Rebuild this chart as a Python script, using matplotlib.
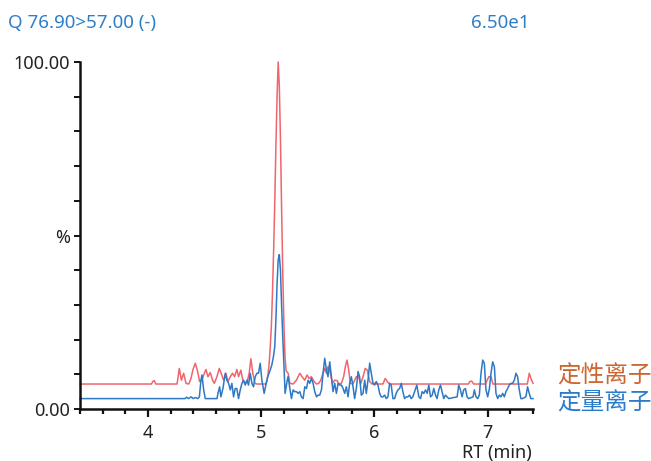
import matplotlib.pyplot as plt
from matplotlib.ticker import MultipleLocator, FixedLocator

plt.rcParams['font.family'] = ['Noto Sans', 'Noto Sans CJK SC', 'DejaVu Sans']

# 定性离子 (qualifier ion), RT (min) / relative intensity (%)
qual_rt = [3.40, 4.03, 4.045, 4.055, 4.07, 4.257, 4.277, 4.295, 4.315, 4.336,
           4.36, 4.38, 4.398, 4.418, 4.439, 4.456, 4.477, 4.492, 4.512, 4.53,
           4.55, 4.571, 4.586, 4.609, 4.63, 4.647, 4.668, 4.688, 4.706, 4.727,
           4.747, 4.765, 4.785, 4.80, 4.82, 4.838, 4.859, 4.879, 4.894, 4.909,
           4.926, 4.944, 4.96, 5.04, 5.05, 5.06, 5.07, 5.08, 5.09, 5.10,
           5.11, 5.12, 5.13, 5.14, 5.15, 5.16, 5.17, 5.18, 5.19, 5.20,
           5.21, 5.22, 5.238, 5.253, 5.282, 5.311, 5.341, 5.361, 5.385, 5.405,
           5.423, 5.443, 5.467, 5.488, 5.508, 5.526, 5.546, 5.561, 5.576, 5.59,
           5.611, 5.629, 5.649, 5.67, 5.687, 5.708, 5.728, 5.743, 5.758, 5.773,
           5.787, 5.81, 5.825, 5.84, 5.86, 5.878, 5.899, 5.919, 5.937, 5.958,
           5.978, 6.00, 6.02, 6.046, 6.075, 6.095, 6.113, 6.134, 6.83, 6.845,
           6.86, 6.875, 6.98, 6.995, 7.01, 7.03, 7.045, 7.35, 7.367, 7.385, 7.40]
qual_pct = [7.2, 7.2, 8.0, 8.2, 7.2, 7.2, 11.7, 8.3, 10.3, 7.4,
            7.2, 8.8, 11.4, 13.2, 10.8, 7.9, 8.3, 9.8, 11.4, 9.3,
            10.5, 8.3, 7.4, 9.3, 11.7, 10.3, 8.3, 10.3, 7.9, 9.3,
            10.3, 9.3, 11.4, 9.3, 11.2, 8.3, 7.2, 8.3, 10.3, 14.5,
            10.3, 7.4, 7.2, 7.2, 8.0, 10.0, 13.0, 18.0, 24.0, 34.0,
            46.0, 60.0, 76.0, 90.0, 100.0, 93.0, 78.0, 58.0, 40.0, 25.0,
            15.0, 11.0, 10.3, 7.4, 7.2, 8.3, 10.3, 9.3, 8.3, 9.8,
            8.8, 9.3, 7.9, 7.2, 7.4, 8.3, 10.3, 11.7, 10.3, 12.2,
            10.3, 7.4, 8.3, 8.2, 7.2, 7.4, 9.3, 12.2, 14.1, 11.2,
            7.4, 7.2, 8.3, 9.3, 9.3, 7.2, 9.3, 11.7, 11.2, 7.9,
            7.2, 7.4, 7.2, 7.2, 7.2, 8.8, 7.9, 7.2, 7.2, 8.0,
            8.0, 7.2, 7.2, 8.3, 9.3, 9.3, 7.2, 7.2, 10.3, 8.5, 7.4]

# 定量离子 (quantifier ion)
quant_rt = [3.40, 4.33, 4.34, 4.36, 4.38, 4.40, 4.42, 4.44, 4.454, 4.468,
            4.477, 4.492, 4.506, 4.61, 4.618, 4.633, 4.644, 4.662, 4.683, 4.697,
            4.712, 4.727, 4.741, 4.756, 4.77, 4.785, 4.80, 4.815, 4.83, 4.844,
            4.859, 4.874, 4.888, 4.903, 4.918, 4.932, 4.947, 4.962, 4.976, 4.991,
            5.006, 5.026, 5.044, 5.058, 5.079, 5.094, 5.108, 5.12, 5.13, 5.14,
            5.15, 5.16, 5.17, 5.18, 5.19, 5.20, 5.211, 5.23, 5.238, 5.253,
            5.267, 5.282, 5.296, 5.311, 5.326, 5.341, 5.355, 5.37, 5.385, 5.40,
            5.414, 5.429, 5.443, 5.458, 5.473, 5.488, 5.502, 5.517, 5.532, 5.546,
            5.561, 5.576, 5.59, 5.605, 5.62, 5.634, 5.649, 5.664, 5.679, 5.693,
            5.708, 5.723, 5.737, 5.752, 5.767, 5.781, 5.796, 5.811, 5.825, 5.84,
            5.855, 5.869, 5.884, 5.899, 5.914, 5.928, 5.943, 5.958, 5.972, 5.987,
            6.002, 6.016, 6.031, 6.046, 6.06, 6.075, 6.09, 6.104, 6.119, 6.134,
            6.148, 6.163, 6.178, 6.192, 6.207, 6.222, 6.237, 6.251, 6.266, 6.281,
            6.295, 6.31, 6.324, 6.339, 6.354, 6.374, 6.392, 6.407, 6.421, 6.436,
            6.451, 6.466, 6.48, 6.495, 6.51, 6.524, 6.539, 6.553, 6.568, 6.583,
            6.597, 6.612, 6.627, 6.642, 6.656, 6.73, 6.744, 6.759, 6.774, 6.788,
            6.803, 6.818, 6.832, 6.871, 6.882, 6.897, 6.912, 6.926, 6.941, 6.956,
            6.97, 6.985, 7.00, 7.015, 7.029, 7.044, 7.059, 7.073, 7.088, 7.103,
            7.117, 7.132, 7.147, 7.161, 7.176, 7.19, 7.205, 7.22, 7.235, 7.25,
            7.264, 7.279, 7.293, 7.308, 7.337, 7.352, 7.367, 7.381, 7.40]
quant_pct = [3.0, 3.0, 3.4, 3.0, 3.5, 3.0, 3.3, 3.0, 3.5, 8.3,
             9.8, 5.5, 3.0, 3.0, 4.5, 6.4, 3.5, 5.9, 10.3, 8.3,
             7.4, 5.5, 7.4, 3.5, 5.9, 5.9, 3.0, 5.5, 7.4, 8.3,
             6.9, 8.3, 6.9, 10.3, 7.4, 6.4, 9.3, 10.3, 10.3, 13.2,
             8.3, 4.5, 7.4, 9.3, 11.2, 12.7, 15.1, 18.0, 26.0, 36.0,
             43.0, 44.5, 40.0, 30.0, 21.0, 13.0, 4.5, 8.3, 9.3, 5.9,
             3.0, 5.5, 5.0, 5.0, 4.5, 5.0, 3.5, 3.0, 6.4, 5.9,
             8.3, 7.4, 8.8, 7.4, 5.0, 3.5, 4.0, 4.0, 5.5, 10.3,
             14.6, 11.2, 9.3, 13.6, 9.3, 5.0, 7.4, 4.5, 7.4, 6.9,
             6.9, 5.9, 4.5, 6.4, 3.5, 7.4, 9.3, 6.4, 3.0, 5.9,
             10.8, 9.3, 4.0, 4.5, 8.3, 4.5, 8.3, 13.2, 10.3, 7.4,
             6.9, 7.9, 6.9, 4.5, 3.5, 3.5, 4.0, 3.0, 3.5, 7.4,
             6.9, 3.0, 3.0, 4.5, 5.5, 5.9, 7.4, 5.0, 3.0, 3.5,
             3.5, 4.0, 3.0, 3.5, 5.0, 6.9, 3.5, 3.0, 5.0, 4.5,
             5.5, 4.5, 6.9, 3.5, 4.0, 5.9, 4.0, 3.0, 5.5, 6.9,
             5.0, 3.0, 4.0, 3.5, 3.0, 3.5, 6.9, 5.5, 3.5, 5.5,
             5.9, 3.5, 3.0, 3.5, 5.5, 3.5, 3.0, 4.0, 10.3, 14.1,
             13.2, 5.5, 3.5, 5.9, 10.3, 13.6, 12.2, 4.5, 3.0, 4.0,
             3.5, 4.5, 3.5, 5.0, 5.9, 6.9, 7.4, 7.4, 8.3, 10.3,
             9.3, 5.5, 3.0, 3.0, 3.5, 6.4, 4.5, 3.0, 3.0]

x_major = [4, 5, 6, 7]
y_ticks = [0, 50, 100]
y_ticklabels = ['0.00', '%', '100.00']

fig = plt.figure(figsize=(6.51, 4.61), dpi=100)
ax = fig.add_axes([80 / 651, 52 / 461, 453 / 651, 347 / 461])

ax.plot(qual_rt, qual_pct, color='#f0646e', lw=1.1, clip_on=False)
ax.plot(quant_rt, quant_pct, color='#2f78c4', lw=1.1, clip_on=False)

ax.set_xlim(3.4, 7.4)
ax.set_ylim(0, 100)

for s in ['top', 'right']:
    ax.spines[s].set_visible(False)
for s in ['left', 'bottom']:
    ax.spines[s].set_linewidth(1.8)
    ax.spines[s].set_color('#111111')

ax.xaxis.set_major_locator(FixedLocator(x_major))
ax.xaxis.set_minor_locator(MultipleLocator(0.2))
ax.set_yticks(y_ticks)
ax.set_yticklabels(y_ticklabels)
ax.yaxis.set_minor_locator(MultipleLocator(10))

ax.tick_params(axis='x', which='major', length=6, width=1.6, labelsize=13,
               pad=5, color='#111111', labelcolor='#222222')
ax.tick_params(axis='x', which='minor', length=3.5, width=1.6, color='#111111')
ax.tick_params(axis='y', which='both', length=4, width=1.4, labelsize=13,
               pad=3, color='#111111', labelcolor='#222222')

fig.text(8 / 651, 1 - 23 / 461, 'Q 76.90>57.00 (-)', color='#2f7fc8',
         fontsize=13.5, va='center', ha='left')
fig.text(530 / 651, 1 - 23 / 461, '6.50e1', color='#2f7fc8',
         fontsize=13.5, va='center', ha='right')
fig.text(532 / 651, 1 - 453 / 461, 'RT (min)', color='#222222',
         fontsize=13, va='center', ha='right')

cjk = ['Noto Sans CJK SC', 'DejaVu Sans']
fig.text(557 / 651, 1 - 376 / 461, '定性离子', color='#cc6633',
         fontsize=17, va='center', ha='left', family=cjk)
fig.text(557 / 651, 1 - 403 / 461, '定量离子', color='#2b7bca',
         fontsize=17, va='center', ha='left', family=cjk)

fig.savefig('out.png', dpi=100)
